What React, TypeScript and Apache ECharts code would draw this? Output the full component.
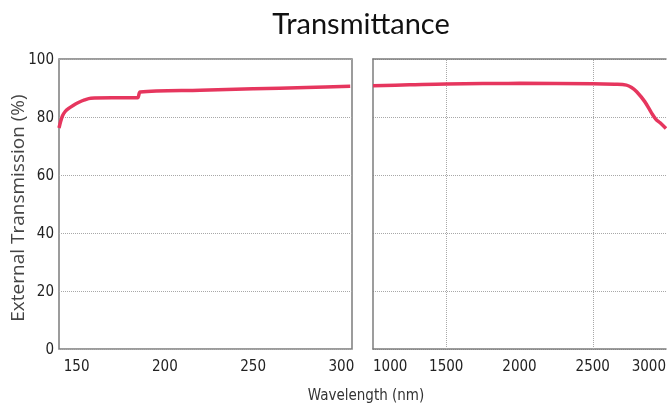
import React, { useEffect, useRef } from "react";
import * as echarts from "echarts";

// Left panel (UV range), wavelength nm vs external transmission %
const uvWavelength = [140, 141, 142, 143.5, 145.5, 148, 151, 154.5, 158, 170, 184.5, 186, 220, 250, 280, 305];
const uvTransmission = [76.2, 78.6, 80.4, 81.9, 83.0, 84.0, 85.0, 85.9, 86.5, 86.6, 86.6, 88.6, 89.2, 89.7, 90.2, 90.6];

// Right panel (IR range)
const irWavelength = [1000, 1250, 1500, 2000, 2500, 2650, 2730, 2765, 2800, 2855, 2900, 2930, 2960, 3000];
const irTransmission = [90.8, 91.1, 91.4, 91.6, 91.5, 91.3, 91.0, 90.2, 88.7, 85.3, 81.5, 79.3, 78.0, 76.0];

const uvTickLabels = [150, 200, 250, 300];
const irGridLines = [1500, 2500];
const yTicks = { min: 0, max: 100, interval: 20 };

const titleText = "Transmittance";
const yAxisTitle = "External Transmission (%)";
const xAxisTitle = "Wavelength (nm)";

const LINE_COLOR = "#e6365e";
const FRAME_COLOR = "#7c7c7c";
const GRID_COLOR = "#a8a8a8";
const TICK_FONT = "'DejaVu Sans Condensed', 'Liberation Sans Narrow', sans-serif";

export default function App() {
  const ref = useRef<HTMLDivElement>(null);

  useEffect(() => {
    if (!ref.current) return;
    const chart = echarts.init(ref.current, null, { renderer: "svg" });

    const tickLabel = { color: "#222", fontFamily: TICK_FONT, fontSize: 15, formatter: (v: number) => String(v) };
    const splitDotted = { show: true, lineStyle: { color: GRID_COLOR, type: [1, 1] as any, width: 1 } };
    const frameLine = { show: true, lineStyle: { color: FRAME_COLOR, width: 1.5 } };

    chart.setOption({
      animation: false,
      title: {
        text: titleText,
        left: 356,
        top: 3,
        textAlign: "center",
        textStyle: { fontFamily: "Lato, 'Open Sans', sans-serif", fontWeight: "normal", fontSize: 29, color: "#111" },
      },
      grid: [
        { left: 59, top: 59, width: 293, height: 290, show: true, borderColor: FRAME_COLOR, borderWidth: 1.5, backgroundColor: "transparent", outerBoundsMode: "none", containLabel: false },
        { left: 373, top: 59, width: 293, height: 290, show: false, outerBoundsMode: "none", containLabel: false },
      ],
      xAxis: [
        {
          type: "value",
          gridIndex: 0,
          min: 140,
          max: 306,
          axisLine: { show: false },
          axisTick: { show: false },
          splitLine: { show: false },
          axisLabel: { ...tickLabel, margin: 9, customValues: uvTickLabels },
        },
        {
          type: "value",
          gridIndex: 1,
          min: 1000,
          max: 3000,
          interval: 500,
          axisLine: frameLine,
          axisTick: { show: false },
          splitLine: { show: false },
          axisLabel: { ...tickLabel, margin: 9, alignMinLabel: "left", alignMaxLabel: "right", showMinLabel: true, showMaxLabel: true },
        },
        {
          type: "value",
          gridIndex: 1,
          position: "top",
          min: 1000,
          max: 3000,
          interval: 500,
          axisLine: frameLine,
          axisTick: { show: false },
          splitLine: { show: false },
          axisLabel: { show: false },
        },
      ],
      yAxis: [
        {
          type: "value",
          gridIndex: 0,
          min: yTicks.min,
          max: yTicks.max,
          interval: yTicks.interval,
          axisLine: { show: false },
          axisTick: { show: false },
          splitLine: splitDotted,
          axisLabel: { ...tickLabel, margin: 5 },
        },
        {
          type: "value",
          gridIndex: 1,
          min: yTicks.min,
          max: yTicks.max,
          interval: yTicks.interval,
          axisLine: frameLine,
          axisTick: { show: false },
          splitLine: splitDotted,
          axisLabel: { show: false },
        },
      ],
      series: [
        {
          type: "line",
          xAxisIndex: 0,
          yAxisIndex: 0,
          data: uvWavelength.map((w, i) => [w, uvTransmission[i]]),
          showSymbol: false,
          smooth: 0.3,
          lineStyle: { color: LINE_COLOR, width: 3.5 },
          z: 5,
        },
        {
          type: "line",
          xAxisIndex: 1,
          yAxisIndex: 1,
          data: irWavelength.map((w, i) => [w, irTransmission[i]]),
          showSymbol: false,
          smooth: 0.35,
          lineStyle: { color: LINE_COLOR, width: 3.5 },
          z: 5,
          markLine: {
            silent: true,
            symbol: "none",
            label: { show: false },
            lineStyle: { color: GRID_COLOR, type: [1, 1] as any, width: 1 },
            data: irGridLines.map((v) => ({ xAxis: v })),
            z: 1,
          },
        },
      ],
      graphic: [
        {
          type: "text",
          x: 17,
          y: 208,
          rotation: Math.PI / 2,
          style: {
            text: yAxisTitle,
            align: "center",
            verticalAlign: "middle",
            fontFamily: "'Open Sans', sans-serif",
            fontSize: 19,
            fill: "#444",
          },
        },
        {
          type: "text",
          x: 366,
          y: 395,
          style: {
            text: xAxisTitle,
            align: "center",
            verticalAlign: "middle",
            fontFamily: TICK_FONT,
            fontSize: 15,
            fill: "#333",
          },
        },
      ],
    });

    return () => chart.dispose();
  }, []);

  return <div ref={ref} style={{ position: "fixed", left: 0, top: 0, width: 667, height: 406 }} />;
}
